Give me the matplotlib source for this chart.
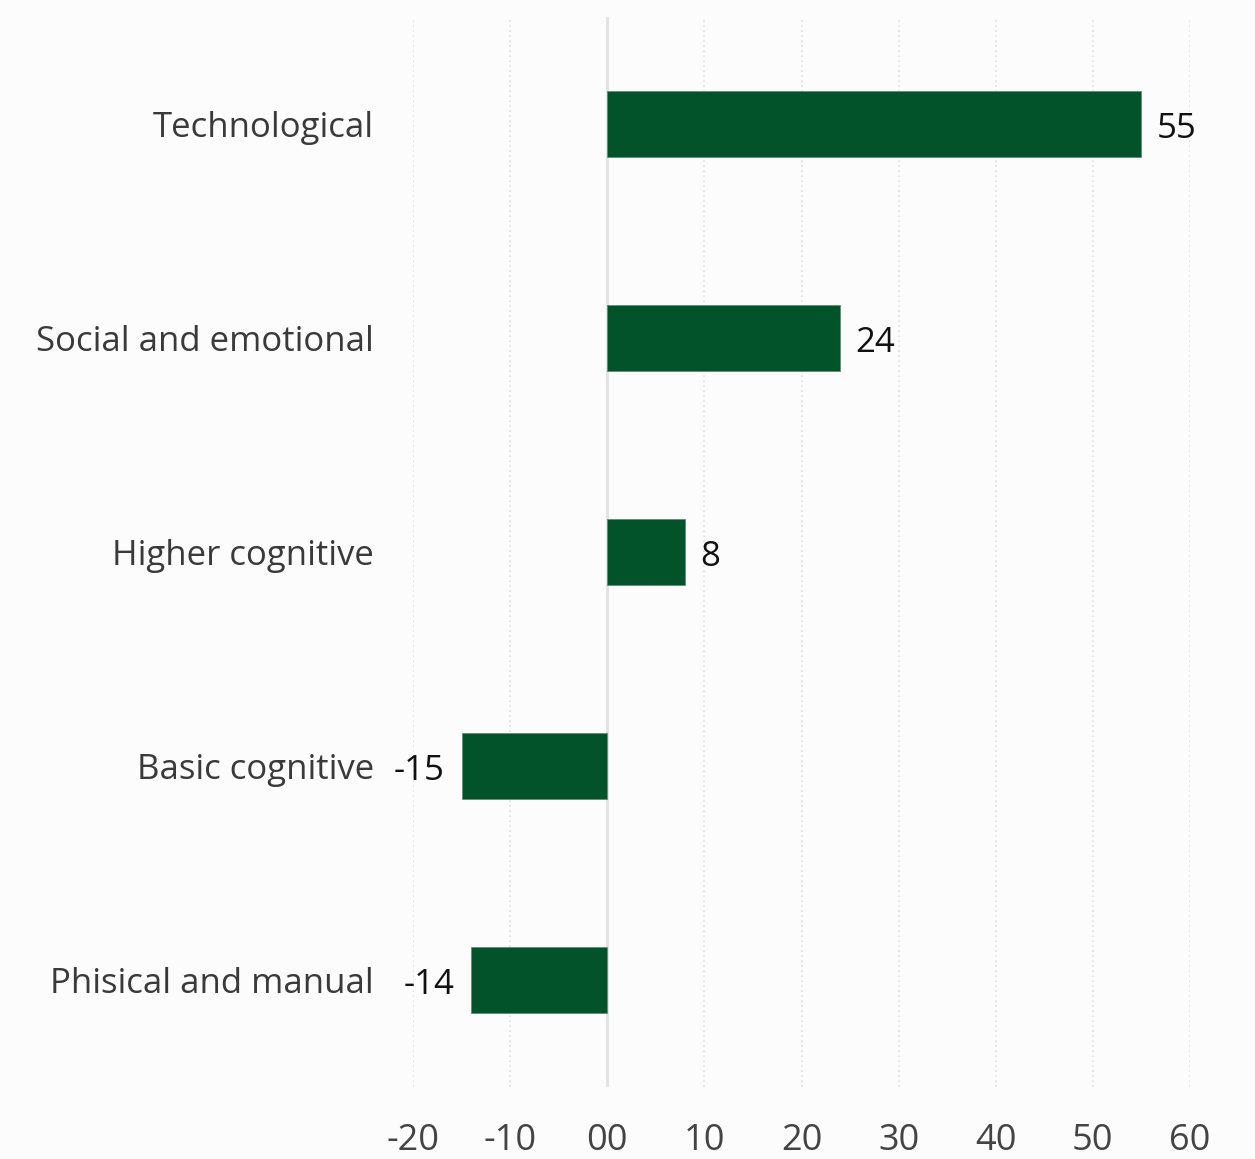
import matplotlib
matplotlib.use("Agg")
import matplotlib.pyplot as plt

categories = ["Technological", "Social and emotional", "Higher cognitive",
              "Basic cognitive", "Phisical and manual"]
values = [55, 24, 8, -15, -14]
tick_values = [-20, -10, 0, 10, 20, 30, 40, 50, 60]
tick_labels = ["-20", "-10", "00", "10", "20", "30", "40", "50", "60"]

plt.rcParams["font.family"] = ["Open Sans", "DejaVu Sans"]

bg = "#fcfcfc"
bar_color = "#03532a"

fig = plt.figure(figsize=(12.55, 11.59), dpi=100, facecolor=bg)
ax = fig.add_axes([413 / 1255, 1 - 1087 / 1159, (1190 - 413) / 1255, (1087 - 17) / 1159])
ax.set_facecolor(bg)

y = list(range(len(categories)))
ax.barh(y, values, height=0.31, color=bar_color, edgecolor="#5f8f74",
        linewidth=0.6, zorder=3)

ax.set_xlim(-20, 60)
ax.set_ylim(len(categories) - 0.5, -0.5)

# dotted vertical gridlines and a solid zero line
for t in tick_values:
    if t == 0:
        ax.axvline(0, color="#e2e2e2", linewidth=2, zorder=2)
    else:
        ax.axvline(t, color="#dedede", linewidth=1.2, linestyle=(0, (1, 2)), zorder=1)

ax.set_xticks(tick_values)
ax.set_xticklabels(tick_labels, fontsize=26, color="#444444")
ax.set_yticks(y)
ax.set_yticklabels(categories, fontsize=25, color="#3a3a3a")
ax.tick_params(axis="x", length=0, pad=26)
ax.tick_params(axis="y", length=0, pad=28)
for lbl in ax.get_yticklabels():
    lbl.set_verticalalignment("center_baseline")
for s in ax.spines.values():
    s.set_visible(False)

# value labels next to each bar
for yi, v in zip(y, values):
    if v >= 0:
        ax.annotate(f"{v}", (v, yi), xytext=(11, -1), textcoords="offset points",
                    ha="left", va="center_baseline", fontsize=25, color="#111111")
    else:
        ax.annotate(f"{v}", (v, yi), xytext=(-12, -1), textcoords="offset points",
                    ha="right", va="center_baseline", fontsize=25, color="#111111")

fig.savefig("out.png", dpi=100, facecolor=bg)
